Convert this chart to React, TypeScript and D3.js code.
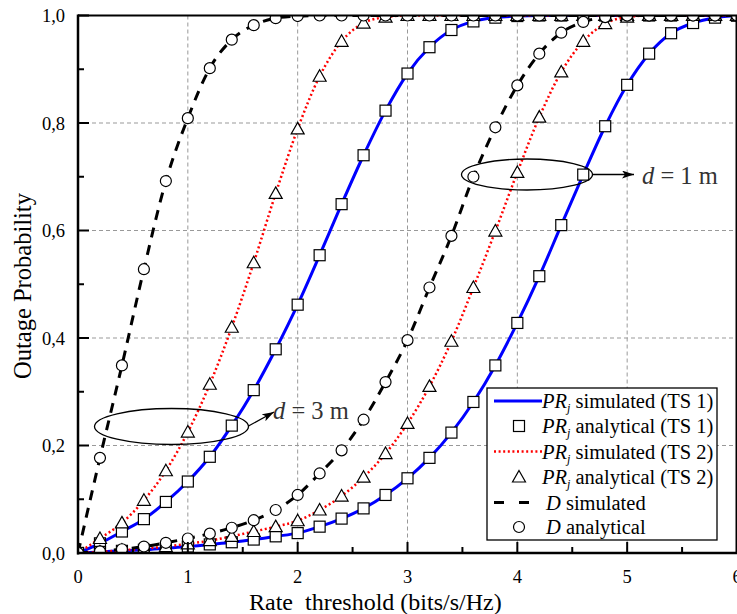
import React from "react";
import * as d3 from "d3";

// Rate threshold sample points (bits/s/Hz)
const rates = [
  0, 0.2, 0.4, 0.6, 0.8, 1.0, 1.2, 1.4, 1.6, 1.8, 2.0, 2.2, 2.4, 2.6, 2.8, 3.0,
  3.2, 3.4, 3.6, 3.8, 4.0, 4.2, 4.4, 4.6, 4.8, 5.0, 5.2, 5.4, 5.6, 5.8, 6.0,
];

// d = 3 m
const d3mD = [
  0, 0.177, 0.349, 0.528, 0.692, 0.809, 0.902, 0.955, 0.982, 0.995, 0.999, 1, 1,
  1, 1, 1, 1, 1, 1, 1, 1, 1, 1, 1, 1, 1, 1, 1, 1, 1, 1,
];
const d3mTS2 = [
  0, 0.027, 0.056, 0.098, 0.153, 0.225, 0.314, 0.42, 0.54, 0.669, 0.789, 0.887,
  0.952, 0.986, 0.997, 1, 1, 1, 1, 1, 1, 1, 1, 1, 1, 1, 1, 1, 1, 1, 1,
];
const d3mTS1 = [
  0, 0.018, 0.04, 0.063, 0.095, 0.133, 0.179, 0.237, 0.303, 0.379, 0.462, 0.554,
  0.649, 0.74, 0.823, 0.892, 0.941, 0.973, 0.989, 0.996, 0.999, 1, 1, 1, 1, 1, 1,
  1, 1, 1, 1,
];

// d = 1 m
const d1mD = [
  0, 0.003, 0.007, 0.012, 0.019, 0.027, 0.036, 0.047, 0.061, 0.08, 0.108, 0.148,
  0.191, 0.248, 0.318, 0.396, 0.494, 0.59, 0.7, 0.792, 0.87, 0.929, 0.968, 0.988,
  0.997, 1, 1, 1, 1, 1, 1,
];
const d1mTS2 = [
  0, 0.002, 0.005, 0.008, 0.012, 0.017, 0.023, 0.031, 0.04, 0.049, 0.06, 0.08,
  0.106, 0.141, 0.185, 0.241, 0.31, 0.394, 0.494, 0.599, 0.708, 0.811, 0.895,
  0.952, 0.985, 0.997, 1, 1, 1, 1, 1,
];
const d1mTS1 = [
  0, 0.002, 0.004, 0.006, 0.009, 0.012, 0.016, 0.02, 0.025, 0.031, 0.037, 0.049,
  0.064, 0.083, 0.108, 0.139, 0.177, 0.224, 0.281, 0.349, 0.428, 0.515, 0.61,
  0.704, 0.794, 0.871, 0.929, 0.967, 0.986, 0.996, 1,
];

const xTicks = [0, 1, 2, 3, 4, 5, 6];
const xMinorTicks = [0.5, 1.5, 2.5, 3.5, 4.5, 5.5];
const yTicks = [0, 0.2, 0.4, 0.6, 0.8, 1.0];
const yTickLabels = ["0,0", "0,2", "0,4", "0,6", "0,8", "1,0"];
const yMinorTicks = [0.1, 0.3, 0.5, 0.7, 0.9];

const FONT = '"Liberation Serif", "DejaVu Serif", serif';
const BLUE = "#0000ff";
const RED = "#ff0000";

const L = 78;
const R = 737;
const T = 15.5;
const B = 553;

type Kind = "square" | "triangle" | "circle";

function Marker({ x, y, kind }: { x: number; y: number; kind: Kind }) {
  const common = { fill: "#fff", stroke: "#000", strokeWidth: 1.2 };
  if (kind === "square")
    return <rect x={x - 5.5} y={y - 5.5} width={11} height={11} {...common} />;
  if (kind === "triangle")
    return (
      <path
        d={`M${x},${y - 6.5}L${x + 6.5},${y + 5}L${x - 6.5},${y + 5}Z`}
        {...common}
      />
    );
  return <circle cx={x} cy={y} r={5.5} {...common} />;
}

const txt = (size: number): React.CSSProperties => ({
  fontFamily: FONT,
  fontSize: size,
  whiteSpace: "pre",
});

export default function App() {
  const x = d3.scaleLinear().domain([0, 6]).range([L, R]);
  const y = d3.scaleLinear().domain([0, 1]).range([B, T]);

  const line = d3
    .line<number>()
    .x((_, i) => x(rates[i]))
    .y((v) => y(v))
    .curve(d3.curveMonotoneX);

  const series = [
    { vals: d3mTS1, color: BLUE, width: 3, dash: undefined, kind: "square" as Kind },
    { vals: d1mTS1, color: BLUE, width: 3, dash: undefined, kind: "square" as Kind },
    { vals: d3mTS2, color: RED, width: 2.5, dash: "2,2.6", kind: "triangle" as Kind },
    { vals: d1mTS2, color: RED, width: 2.5, dash: "2,2.6", kind: "triangle" as Kind },
    { vals: d3mD, color: "#000", width: 3, dash: "10,8", kind: "circle" as Kind },
    { vals: d1mD, color: "#000", width: 3, dash: "10,8", kind: "circle" as Kind },
  ];

  const legendRows = [
    { y: 401, type: "line", color: BLUE, dash: undefined, w: 3, pr: true, text: " simulated (TS 1)" },
    { y: 426, type: "square", pr: true, text: " analytical (TS 1)" },
    { y: 451.5, type: "line", color: RED, dash: "2,2.6", w: 2.5, pr: true, text: " simulated (TS 2)" },
    { y: 477, type: "triangle", pr: true, text: " analytical (TS 2)" },
    { y: 502.5, type: "line", color: "#000", dash: "10,15", w: 3, pr: false, text: " simulated" },
    { y: 527, type: "circle", pr: false, text: " analytical" },
  ];

  return (
    <svg
      width={737}
      height={614}
      style={{ position: "absolute", left: 0, top: 0, background: "#fff", fontFamily: FONT }}
    >
      <defs>
        <clipPath id="plot-clip">
          <rect x={L} y={T} width={R - L} height={B - T} />
        </clipPath>
        <marker
          id="arrowhead"
          viewBox="0 0 12 8"
          refX={12}
          refY={4}
          markerWidth={12}
          markerHeight={8}
          markerUnits="userSpaceOnUse"
          orient="auto"
        >
          <path d="M0,0L12,4L0,8L3,4Z" fill="#000" />
        </marker>
      </defs>

      {/* grid */}
      <g stroke="#999" strokeWidth={1} strokeDasharray="4,3">
        {xTicks.slice(1, -1).map((t) => (
          <line key={"gx" + t} x1={x(t)} x2={x(t)} y1={T} y2={B} />
        ))}
        {yTicks.slice(1, -1).map((t) => (
          <line key={"gy" + t} x1={L} x2={R} y1={y(t)} y2={y(t)} />
        ))}
      </g>

      {/* curves */}
      <g clipPath="url(#plot-clip)">
        {series.map((s, i) => (
          <path
            key={"l" + i}
            d={line(s.vals) || ""}
            fill="none"
            stroke={s.color}
            strokeWidth={s.width}
            strokeDasharray={s.dash}
          />
        ))}
        {series.map((s, i) =>
          s.vals.map((v, j) => (
            <Marker key={`m${i}-${j}`} x={x(rates[j])} y={y(v)} kind={s.kind} />
          ))
        )}
      </g>

      {/* annotations */}
      <g fill="none" stroke="#000" strokeWidth={1.3}>
        <ellipse cx={171.5} cy={426.5} rx={77} ry={18} />
        <line x1={248.5} y1={426} x2={274} y2={412} markerEnd="url(#arrowhead)" />
        <ellipse cx={527} cy={174.5} rx={65.5} ry={15.5} />
        <line x1={592.5} y1={174.5} x2={634} y2={174.5} markerEnd="url(#arrowhead)" />
      </g>
      <text x={273} y={419} fill="#333" style={txt(24.5)}>
        <tspan fontStyle="italic">d</tspan> = 3 m
      </text>
      <text x={642} y={184} fill="#333" style={txt(24.5)}>
        <tspan fontStyle="italic">d</tspan> = 1 m
      </text>

      {/* legend */}
      <rect x={487} y={388} width={230} height={152} fill="#fff" stroke="#000" strokeWidth={1.3} />
      {legendRows.map((r, i) => (
        <g key={"lg" + i}>
          {r.type === "line" ? (
            <line
              x1={494}
              x2={r.pr ? 542 : 531}
              y1={r.y}
              y2={r.y}
              stroke={r.color}
              strokeWidth={r.w}
              strokeDasharray={r.dash}
            />
          ) : (
            <Marker x={519} y={r.y} kind={r.type as Kind} />
          )}
          <text x={r.pr ? 542 : 546} y={r.y + 7} fill="#000" style={txt(20.5)}>
            {r.pr ? (
              <>
                <tspan fontStyle="italic">PR</tspan>
                <tspan fontStyle="italic" style={{ fontSize: 12 }} dy={4}>j</tspan>
                <tspan dy={-4}>{r.text}</tspan>
              </>
            ) : (
              <>
                <tspan fontStyle="italic">D</tspan>
                <tspan>{r.text}</tspan>
              </>
            )}
          </text>
        </g>
      ))}

      {/* axes frame */}
      <line x1={L} x2={R} y1={T} y2={T} stroke="#000" strokeWidth={2} />
      <line x1={R - 0.5} x2={R - 0.5} y1={T} y2={B} stroke="#000" strokeWidth={2} />
      <line x1={L} x2={L} y1={T - 1} y2={B + 1.5} stroke="#000" strokeWidth={2.5} />
      <line x1={L - 1} x2={R} y1={B} y2={B} stroke="#000" strokeWidth={2.5} />

      {/* ticks */}
      <g stroke="#000" strokeWidth={2}>
        {xTicks.map((t) => (
          <line key={"xt" + t} x1={x(t)} x2={x(t)} y1={B} y2={B - 11} />
        ))}
        {xMinorTicks.map((t) => (
          <line key={"xm" + t} x1={x(t)} x2={x(t)} y1={B} y2={B - 6} />
        ))}
        {yTicks.map((t) => (
          <line key={"yt" + t} x1={L} x2={L + 11} y1={y(t)} y2={y(t)} />
        ))}
        {yMinorTicks.map((t) => (
          <line key={"ym" + t} x1={L} x2={L + 6} y1={y(t)} y2={y(t)} />
        ))}
      </g>

      {/* tick labels */}
      <g fill="#000">
        {xTicks.map((t) => (
          <text key={"xl" + t} x={x(t)} y={583} textAnchor="middle" style={txt(18.5)}>
            {t}
          </text>
        ))}
        {yTicks.map((t, i) => (
          <text key={"yl" + t} x={65} y={y(t) + 6.5} textAnchor="end" style={txt(18.5)}>
            {yTickLabels[i]}
          </text>
        ))}
      </g>

      {/* axis titles */}
      <text x={249} y={610} fill="#000" style={txt(24)}>
        Rate  threshold (bits/s/Hz)
      </text>
      <text
        transform="translate(31,286) rotate(-90)"
        textAnchor="middle"
        fill="#000"
        style={txt(24.5)}
      >
        Outage Probability
      </text>
    </svg>
  );
}
